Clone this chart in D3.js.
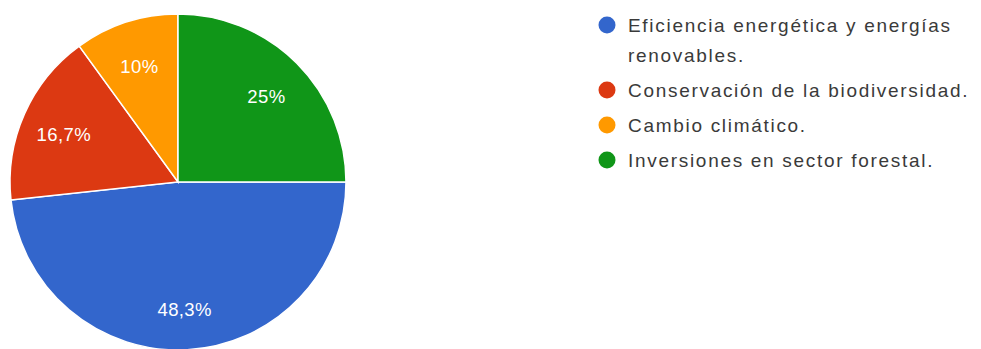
<!DOCTYPE html>
<html>
<head>
<meta charset="utf-8">
<script src="https://cdn.jsdelivr.net/npm/d3@7"></script>
<style>
  html, body { margin: 0; padding: 0; background: #fff; }
  svg { display: block; }
</style>
</head>
<body>
<svg id="chart" width="981" height="349"></svg>
<script>
// ---- data ----
const categories = [
  "Eficiencia energética y energías renovables.",
  "Conservación de la biodiversidad.",
  "Cambio climático.",
  "Inversiones en sector forestal."
];
const values = [48.3, 16.7, 10, 25];
const valueLabels = ["48,3%", "16,7%", "10%", "25%"];
const colors = ["#3366cc", "#dc3912", "#ff9900", "#109618"];

// ---- layout ----
const svg = d3.select("#chart");
const cx = 178, cy = 182, R = 168, labelR = 125;

const pie = d3.pie().sort(null).value(d => d)
  .startAngle(Math.PI / 2).endAngle(Math.PI / 2 + 2 * Math.PI);
const arcs = pie(values);
const arc = d3.arc().innerRadius(0).outerRadius(R);
const labelArc = d3.arc().innerRadius(labelR).outerRadius(labelR);

const g = svg.append("g").attr("transform", `translate(${cx},${cy})`);
g.selectAll("path.slice").data(arcs).join("path")
  .attr("class", "slice")
  .attr("d", arc)
  .attr("fill", (d, i) => colors[i])
  .attr("stroke", "#ffffff")
  .attr("stroke-width", 1.5);

g.selectAll("text.pct").data(arcs).join("text")
  .attr("class", "pct")
  .attr("transform", d => `translate(${labelArc.centroid(d)})`)
  .attr("text-anchor", "middle")
  .attr("dominant-baseline", "central")
  .attr("dy", 3)
  .attr("font-family", "'Liberation Sans', Arial, sans-serif")
  .attr("font-size", 18.5)
  .attr("letter-spacing", 0.4)
  .attr("fill", "#ffffff")
  .text((d, i) => valueLabels[i]);

// ---- legend ----
const legX = 607, textX = 628, legY0 = 25, itemGap = 35, lineGap = 30, maxW = 355;
const leg = svg.append("g");
let y = legY0;
categories.forEach((cat, i) => {
  leg.append("circle").attr("cx", legX).attr("cy", y).attr("r", 8.5).attr("fill", colors[i]);
  const t = leg.append("text")
    .attr("x", textX)
    .attr("font-family", "'Liberation Sans', Arial, sans-serif")
    .attr("font-size", 19)
    .attr("letter-spacing", 1.7)
    .attr("fill", "#3a3a3a")
    .attr("dominant-baseline", "central");
  const words = cat.split(" ");
  let line = [];
  let lineY = y;
  let ts = t.append("tspan").attr("x", textX).attr("y", lineY);
  words.forEach(w => {
    line.push(w);
    ts.text(line.join(" "));
    if (ts.node().getComputedTextLength() > maxW && line.length > 1) {
      line.pop();
      ts.text(line.join(" "));
      line = [w];
      lineY += lineGap;
      ts = t.append("tspan").attr("x", textX).attr("y", lineY).text(w);
    }
  });
  y = lineY + itemGap;
});
</script>
</body>
</html>
